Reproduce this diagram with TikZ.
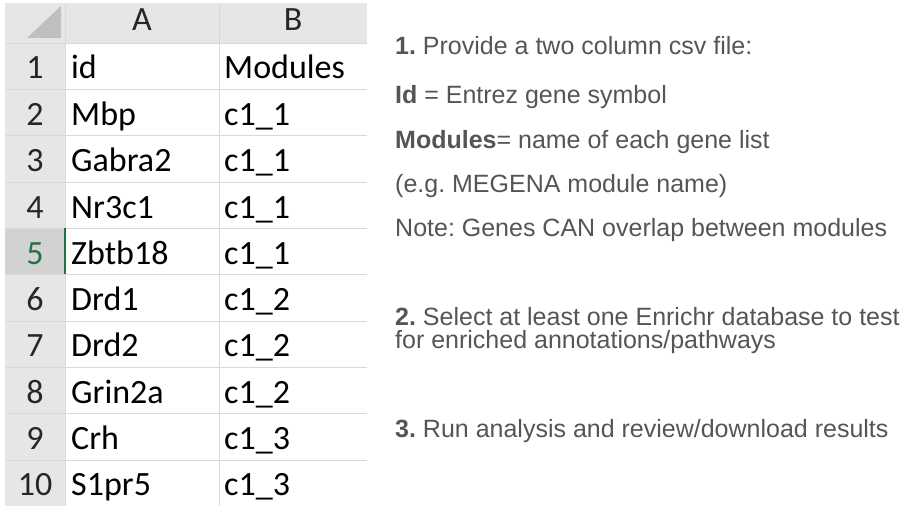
\documentclass[tikz,border=0pt]{standalone}
\usepackage{fontspec}
\setmainfont{Liberation Sans}
\newfontfamily\cellfont{Carlito}
\definecolor{hdrgray}{HTML}{E6E6E6}
\definecolor{selgray}{HTML}{D2D2D2}
\definecolor{gridgray}{HTML}{D9D9D9}
\definecolor{xlgreen}{HTML}{217346}
\definecolor{notegray}{HTML}{555555}
\frenchspacing
\begin{document}
\begin{tikzpicture}[x=1pt,y=-1pt,
    cell/.style={anchor=base west,inner sep=0pt,font=\cellfont\fontsize{34}{40}\selectfont},
    rownum/.style={anchor=base,inner sep=0pt,text=black!85,font=\cellfont\fontsize{34}{40}\selectfont},
    note/.style={anchor=base west,inner sep=0pt,text=notegray,font=\fontsize{25}{30}\selectfont}]
      \useasboundingbox (0,0) rectangle (919,519);
      % sheet headers
      \fill [hdrgray] (5,3) rectangle (367,43);
      \fill [hdrgray] (5,43) rectangle (65,506);
      \fill [selgray] (5,228) rectangle (65,274);
      \fill [black!25] (27,38) -- (61,38) -- (61,6) -- cycle;
      % grid
      \draw [gridgray] (5,43) -- (367,43);
      \draw [gridgray] (5,89) -- (367,89);
      \draw [gridgray] (5,135) -- (367,135);
      \draw [gridgray] (5,182) -- (367,182);
      \draw [gridgray] (5,228) -- (367,228);
      \draw [gridgray] (5,274) -- (367,274);
      \draw [gridgray] (5,321) -- (367,321);
      \draw [gridgray] (5,367) -- (367,367);
      \draw [gridgray] (5,413) -- (367,413);
      \draw [gridgray] (5,460) -- (367,460);
      \draw [gridgray] (65,3) -- (65,506);
      \draw [gridgray] (219,3) -- (219,506);
      \draw [xlgreen, line width=2pt] (65,228) -- (65,274);
      % column letters
      \node [rownum] (colA) at (142,31) {A};
      \node [rownum] (colB) at (293,31) {B};
      % row numbers
      \node [rownum] (r1) at (35,79) {1};
      \node [rownum] (r2) at (35,125) {2};
      \node [rownum] (r3) at (35,171) {3};
      \node [rownum] (r4) at (35,218) {4};
      \node [rownum, text=xlgreen] (r5) at (35,264) {5};
      \node [rownum] (r6) at (35,310) {6};
      \node [rownum] (r7) at (35,356) {7};
      \node [rownum] (r8) at (35,403) {8};
      \node [rownum] (r9) at (35,449) {9};
      \node [rownum] (r10) at (35,495) {10};
      % cells
      \node [cell] (a1) at (71,79) {id};
      \node [cell] (b1) at (224,79) {Modules};
      \node [cell] (a2) at (71,125) {Mbp};
      \node [cell] (b2) at (224,125) {c1\_1};
      \node [cell] (a3) at (71,171) {Gabra2};
      \node [cell] (b3) at (224,171) {c1\_1};
      \node [cell] (a4) at (71,218) {Nr3c1};
      \node [cell] (b4) at (224,218) {c1\_1};
      \node [cell] (a5) at (71,264) {Zbtb18};
      \node [cell] (b5) at (224,264) {c1\_1};
      \node [cell] (a6) at (71,310) {Drd1};
      \node [cell] (b6) at (224,310) {c1\_2};
      \node [cell] (a7) at (71,356) {Drd2};
      \node [cell] (b7) at (224,356) {c1\_2};
      \node [cell] (a8) at (71,403) {Grin2a};
      \node [cell] (b8) at (224,403) {c1\_2};
      \node [cell] (a9) at (71,449) {Crh};
      \node [cell] (b9) at (224,449) {c1\_3};
      \node [cell] (a10) at (71,495) {S1pr5};
      \node [cell] (b10) at (224,495) {c1\_3};
      % instructions
      \node [note] (step1) at (395,55) {\textbf{1.} Provide a two column csv file:};
      \node [note] (idline) at (395,103) {\textbf{Id} = Entrez gene symbol};
      \node [note] (modline) at (395,148) {\textbf{Modules}= name of each gene list};
      \node [note] (egline) at (395,192) {(e.g. MEGENA module name)};
      \node [note] (noteline) at (395,236) {Note: Genes CAN overlap between modules};
      \node [note] (step2) at (395,325) {\textbf{2.} Select at least one Enrichr database to test};
      \node [note] (step2b) at (395,348) {for enriched annotations/pathways};
      \node [note] (step3) at (395,437) {\textbf{3.} Run analysis and review/download results};
\end{tikzpicture}
\end{document}
